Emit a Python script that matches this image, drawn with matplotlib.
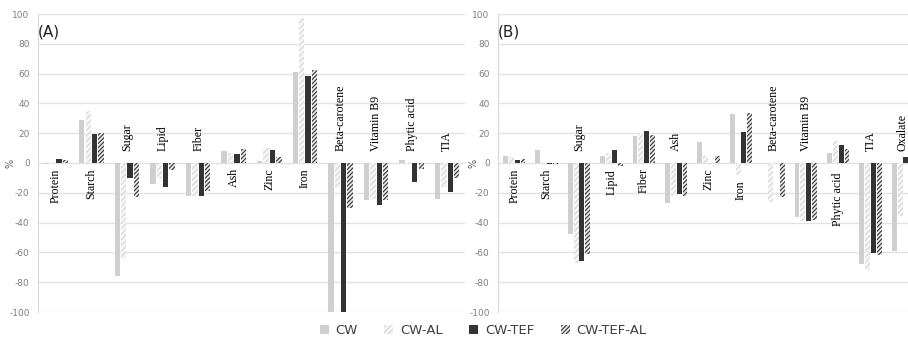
import numpy as np
import matplotlib
matplotlib.use('Agg')
import matplotlib.pyplot as plt
from matplotlib.patches import Patch

#series names
series = ['CW', 'CW-AL', 'CW-TEF', 'CW-TEF-AL']

#panel A
cats_a = ['Protein', 'Starch', 'Sugar', 'Lipid', 'Fiber', 'Ash', 'Zinc', 'Iron',
          'Beta-carotene', 'Vitamin B9', 'Phytic acid', 'TIA']
cw_a      = [-1, 29, -76, -14, -22, 8, 1.5, 61, -100, -25, 2, -24]
cw_al_a   = [-0.5, 35, -64, -11, -22, 7, 10, 97, -17, -24, -1, -16]
cw_tef_a  = [3, 19.5, -10, -16, -22, 6, 8.5, 58.5, -100, -28.5, -12.5, -19.5]
cw_tefal_a = [2, 20, -23, -5, -19, 9.5, 4, 62.5, -30, -25, -4, -10]

#panel B
cats_b = ['Protein', 'Starch', 'Sugar', 'Lipid', 'Fiber', 'Ash', 'Zinc', 'Iron',
          'Beta-carotene', 'Vitamin B9', 'Phytic acid', 'TIA', 'Oxalate']
cw_b      = [5, 8.5, -47.5, 5, 18, -27, 14, 33, 0, -36, 7, -68, -59]
cw_al_b   = [4, 0, -67, 7, 20, -22, 5, -8, -26, -39, 15, -72, -35.5]
cw_tef_b  = [2, -1, -65.5, 9, 21.5, -20.5, 0, 20.5, 0, -39, 12, -60.5, 4]
cw_tefal_b = [2.5, -0.5, -61, -2, 19, -22, 5, 33.5, -23, -38, 9.5, -62, np.nan]

yticks = list(range(-100, 101, 20))

#bar styles: (face, hatch colour, hatch)
styles = [('#cfcfcf', '#cfcfcf', None),
          ('#f6f6f6', '#d6d6d6', '//////'),
          ('#333333', '#333333', None),
          ('#e8e8e8', '#333333', '////////')]

plt.rcParams['hatch.linewidth'] = 0.8
plt.rcParams['axes.unicode_minus'] = False

fig = plt.figure(figsize=(9.08, 3.44), dpi=100)
W, H = 908.0, 344.0
ax_a = fig.add_axes([38/W, (H-312)/H, (465-38)/W, 298/H])
ax_b = fig.add_axes([498/W, (H-312)/H, 13*32.4/W, 298/H])

def draw(ax, cats, data, tag, nudge, lab_x):
    x = np.arange(len(cats))
    offs = [-0.27, -0.09, 0.09, 0.27]
    for vals, off, (fc, hc, ht) in zip(data, offs, styles):
        ax.bar(x + off, vals, width=0.15, color=fc, edgecolor=hc, hatch=ht,
               linewidth=0, zorder=3)
    ax.set_xlim(-0.5, len(cats) - 0.5)
    ax.set_ylim(-100, 100)
    ax.set_yticks(yticks)
    ax.set_xticks([])
    ax.grid(axis='y', color='#e3e3e3', linewidth=1, zorder=0)
    for s in ['top', 'right', 'bottom']:
        ax.spines[s].set_visible(False)
    ax.spines['left'].set_color('#d9d9d9')
    ax.tick_params(axis='y', length=0, labelsize=6.5, labelcolor='#7f7f7f', pad=6)
    ax.set_ylabel('%', fontsize=7, color='#595959')
    ax.yaxis.set_label_coords(lab_x, 0.5)
    #category labels, above zero when the group is mostly negative
    for i, c in enumerate(cats):
        vals = [d[i] for d in data if not np.isnan(d[i])]
        dy = nudge.get(c, 0)
        if np.mean(vals) < 0:
            ax.text(i, 8 + dy, c, rotation=90, ha='center', va='bottom',
                    fontsize=8.6, family='Liberation Serif', zorder=4)
        else:
            ax.text(i, -3.5 - dy, c, rotation=90, ha='center', va='top',
                    fontsize=8.6, family='Liberation Serif', zorder=4)
    ax.text(-0.5, 88, tag, ha='left', va='center', fontsize=11, color='#222222')

draw(ax_a, cats_a, [cw_a, cw_al_a, cw_tef_a, cw_tefal_a], '(A)', {}, -0.052)
draw(ax_b, cats_b, [cw_b, cw_al_b, cw_tef_b, cw_tefal_b], '(B)',
     {'Iron': 8, 'Phytic acid': 3, 'Lipid': 1}, -0.046)

handles = [Patch(facecolor=fc, edgecolor=hc, hatch=ht, linewidth=0)
           for fc, hc, ht in styles]
fig.legend(handles, series, loc='center', bbox_to_anchor=(0.532, 0.038), ncol=4,
           frameon=False, fontsize=9.5, handlelength=0.7, handleheight=0.7,
           columnspacing=2.0, handletextpad=0.5, labelcolor='#404040')

plt.savefig('out.png', dpi=100)
